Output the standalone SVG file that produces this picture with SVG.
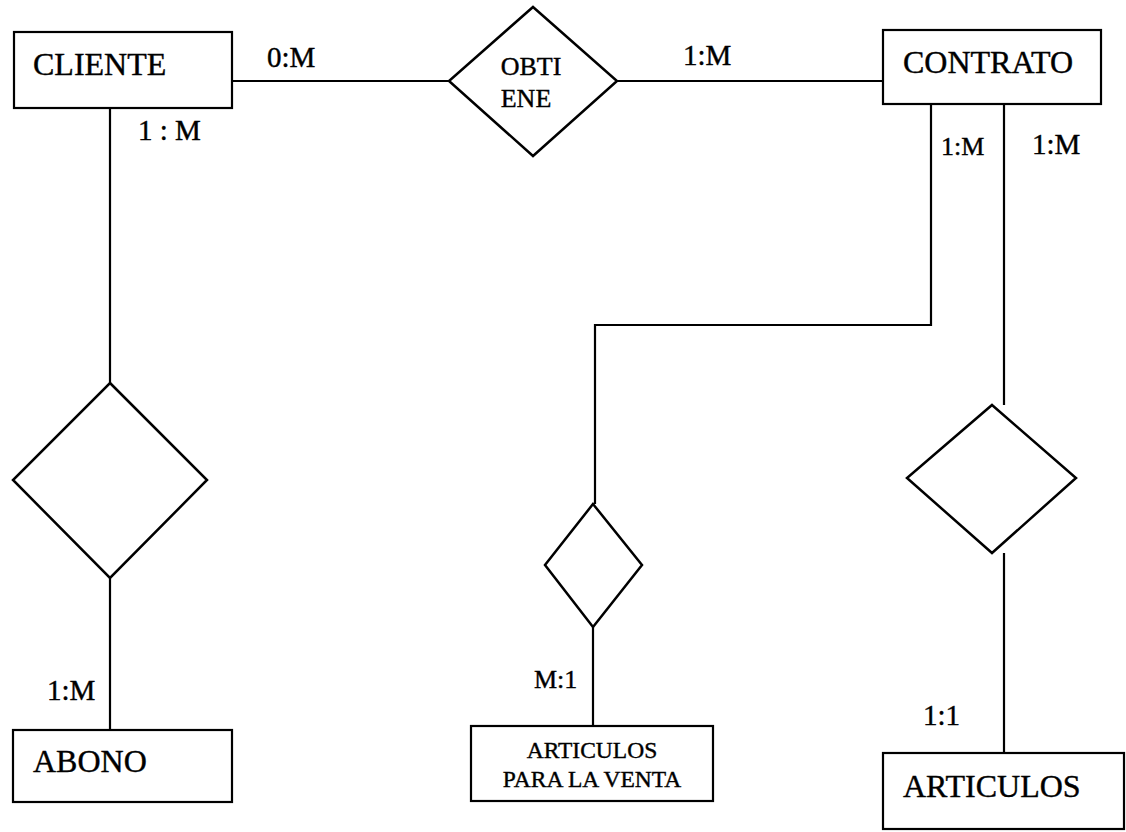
<svg xmlns="http://www.w3.org/2000/svg" width="1126" height="832" viewBox="0 0 1126 832">
<style>
.box{fill:#fff;stroke:#000;stroke-width:2.2}
.dia{fill:#fff;stroke:#000;stroke-width:2.5;stroke-linejoin:miter}
.ln{fill:none;stroke:#000;stroke-width:2.2}
text{font-family:"Liberation Serif","Times New Roman",serif;fill:#000;stroke:#000;stroke-width:0.4}
.t{font-size:32px}
.lb{font-size:29px}
</style>
<rect width="1126" height="832" fill="#fff"/>
<g id="connectors">
<line class="ln" x1="232" y1="81" x2="449" y2="81"/>
<line class="ln" x1="617" y1="81" x2="883" y2="81"/>
<line class="ln" x1="110" y1="108" x2="110" y2="383"/>
<line class="ln" x1="110" y1="578" x2="110" y2="730"/>
<polyline class="ln" points="931,104 931,325 595,325 595,504"/>
<line class="ln" x1="593" y1="627" x2="593" y2="726"/>
<line class="ln" x1="1004" y1="104" x2="1004" y2="405"/>
<line class="ln" x1="1004" y1="553" x2="1004" y2="753"/>
<text class="lb" x="267" y="67">0:M</text>
<text class="lb" x="683" y="65">1:M</text>
<text class="lb" x="138" y="140">1 : M</text>
<text class="lb" x="941" y="155" style="font-size:26px">1:M</text>
<text class="lb" x="1032" y="154">1:M</text>
<text class="lb" x="47" y="700">1:M</text>
<text class="lb" x="534" y="688" style="font-size:26px">M:1</text>
<text class="lb" x="923" y="725">1:1</text>
</g>
<g id="cliente">
<rect class="box" x="14" y="32" width="218" height="76"/>
<text class="t" x="33" y="75">CLIENTE</text>
</g>
<g id="obtiene">
<polygon class="dia" points="533,7 617,81 533,156 449,81"/>
<text x="531" y="75" text-anchor="middle" style="font-size:26px">OBTI</text>
<text x="526" y="107" text-anchor="middle" style="font-size:26px">ENE</text>
</g>
<g id="contrato">
<rect class="box" x="883" y="30" width="218" height="74"/>
<text class="t" x="903" y="73">CONTRATO</text>
</g>
<g id="rel-abono">
<polygon class="dia" points="110,383 207,480 110,578 13,480"/>
</g>
<g id="abono">
<rect class="box" x="13" y="730" width="219" height="72"/>
<text class="t" x="33" y="772">ABONO</text>
</g>
<g id="rel-venta">
<polygon class="dia" points="593,504 642,565 593,627 545,565"/>
</g>
<g id="articulos-venta">
<rect class="box" x="471" y="726" width="242" height="75"/>
<text x="592" y="758" text-anchor="middle" style="font-size:23.5px">ARTICULOS</text>
<text x="592" y="787" text-anchor="middle" style="font-size:23.5px">PARA LA VENTA</text>
</g>
<g id="rel-articulos">
<polygon class="dia" points="992,405 1076,478 992,553 907,478"/>
</g>
<g id="articulos">
<rect class="box" x="883" y="753" width="241" height="76"/>
<text class="t" x="903" y="797">ARTICULOS</text>
</g>
</svg>
